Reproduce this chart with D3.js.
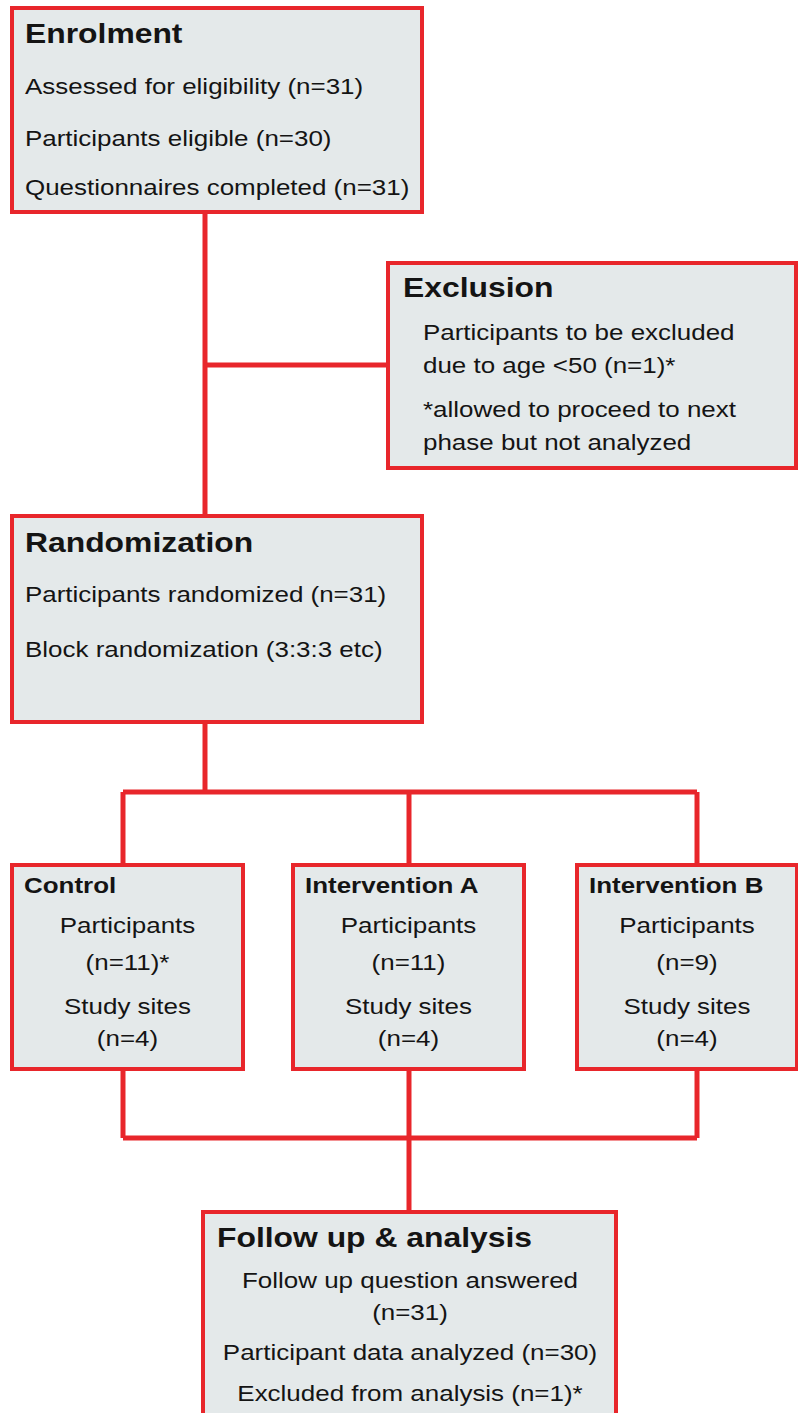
<!DOCTYPE html>
<html>
<head>
<meta charset="utf-8">
<script src="https://cdn.jsdelivr.net/npm/d3@7"></script>
<style>
  body { margin: 0; background: #fff; }
  svg { display: block; }
</style>
</head>
<body>
<svg id="chart"></svg>
<script>
// flow chart text
const enrolTitle = "Enrolment";
const enrolLines = ["Assessed for eligibility (n=31)", "Participants eligible (n=30)", "Questionnaires completed (n=31)"];

const exclTitle = "Exclusion";
const exclLines = ["Participants to be excluded", "due to age <50 (n=1)*", "*allowed to proceed to next", "phase but not analyzed"];

const randTitle = "Randomization";
const randLines = ["Participants randomized (n=31)", "Block randomization (3:3:3 etc)"];

const groups = ["Control", "Intervention A", "Intervention B"];
const groupParticipants = ["(n=11)*", "(n=11)", "(n=9)"];
const groupSites = ["(n=4)", "(n=4)", "(n=4)"];

const followTitle = "Follow up & analysis";
const followLines = ["Follow up question answered", "(n=31)", "Participant data analyzed (n=30)", "Excluded from analysis (n=1)*"];

const w = 798;
const h = 1413;
const red = "#e8262b";
const fill = "#e4e9ea";
const sx = 1.18; // the source figure is stretched sideways

const svg = d3.select("#chart").attr("width", w).attr("height", h);
svg.append("rect").attr("width", w).attr("height", h).attr("fill", "#fff");

// x position of each group column (box left edge and connector)
const groupLeft = d3.scaleOrdinal().domain(groups).range([12, 293, 577]);
const groupRight = d3.scaleOrdinal().domain(groups).range([243, 524, 797]);
const groupLink = d3.scaleOrdinal().domain(groups).range([123, 409, 697]);

const lines = svg.append("g").attr("stroke", red).attr("stroke-width", 5).attr("fill", "none");
const link = (pts) => lines.append("path").attr("d", d3.line()(pts));

// connectors
link([[205, 212], [205, 516]]);
link([[205, 365], [388, 365]]);
link([[205, 722], [205, 792]]);
link([[groupLink(groups[0]), 792], [groupLink(groups[2]), 792]]);
link([[groupLink(groups[0]), 1138], [groupLink(groups[2]), 1138]]);
groups.forEach(g => {
    link([[groupLink(g), 792], [groupLink(g), 865]]);
    link([[groupLink(g), 1069], [groupLink(g), 1138]]);
});
link([[409, 1138], [409, 1212]]);

let box = (x0, y0, x1, y1) => {
    svg.append("rect").attr("x", x0).attr("y", y0).attr("width", x1 - x0).attr("height", y1 - y0)
        .attr("fill", fill).attr("stroke", red).attr("stroke-width", 4);
}

let label = (txt, x, y, size, bold, anchor) => {
    svg.append("text").text(txt)
        .attr("transform", "translate(" + x + "," + y + ") scale(" + sx + ",1)")
        .attr("font-family", "'Liberation Sans', Arial, sans-serif")
        .attr("font-size", size)
        .attr("font-weight", bold ? "bold" : "normal")
        .attr("text-anchor", anchor || "start")
        .attr("fill", "#141414");
}

// Enrolment
box(12, 8, 422, 212);
label(enrolTitle, 25, 43, 27, true);
[94, 146, 195].forEach((y, i) => label(enrolLines[i], 25, y, 22));

// Exclusion
box(388, 263, 796, 468);
label(exclTitle, 403, 297, 27, true);
[340, 373, 417, 450].forEach((y, i) => label(exclLines[i], 423, y, 22));

// Randomization
box(12, 516, 422, 722);
label(randTitle, 25, 552, 27, true);
[602, 657].forEach((y, i) => label(randLines[i], 25, y, 22));

// groups
groups.forEach((g, i) => {
    const l = groupLeft(g), r = groupRight(g), c = (l + r) / 2;
    box(l, 865, r, 1069);
    label(g, l + 12, 893, 22, true);
    label("Participants", c, 933, 22, false, "middle");
    label(groupParticipants[i], c, 970, 22, false, "middle");
    label("Study sites", c, 1014, 22, false, "middle");
    label(groupSites[i], c, 1046, 22, false, "middle");
});

// Follow up
box(203, 1212, 616, 1430);
label(followTitle, 217, 1247, 27, true);
[1288, 1320, 1360, 1401].forEach((y, i) => label(followLines[i], 410, y, 22, false, "middle"));
</script>
</body>
</html>
